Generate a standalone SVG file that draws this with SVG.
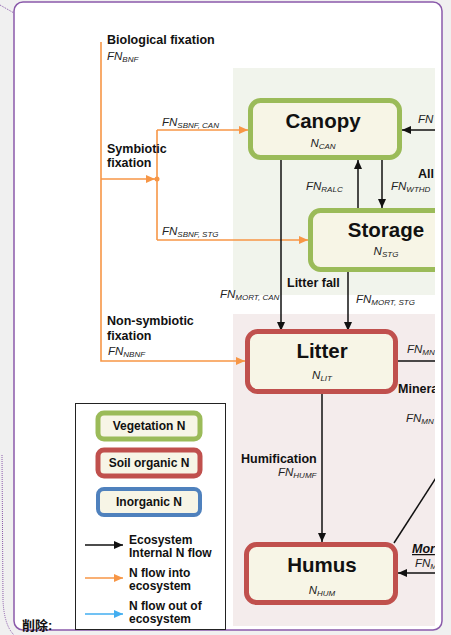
<svg xmlns="http://www.w3.org/2000/svg" width="451" height="635" viewBox="0 0 451 635">
<style>
text{font-family:"Liberation Sans",Arial,sans-serif;fill:#111}
.b{font-weight:bold}
.lbl{font-size:12.5px;font-weight:bold}
.it{font-style:italic;font-size:11.5px;fill:#222}
.sub{font-size:8px}
.title{font-size:20.5px;font-weight:bold;text-anchor:middle}
.leg{font-size:12px;font-weight:bold}
.legbox{font-size:12px;font-weight:bold;text-anchor:middle}
.veg{fill:#f7f5e6;stroke:#9bbb59;stroke-width:5}
.soil{fill:#f7f5e6;stroke:#c0504d;stroke-width:5}
.inorg{fill:#f7f5e6;stroke:#4f81bd;stroke-width:4}
.blk{stroke:#111;stroke-width:1.5;fill:none}
.org{stroke:#f79646;stroke-width:1.6;fill:none}
.blu{stroke:#42aef0;stroke-width:1.6;fill:none}
</style>
<defs>
<marker id="ab" markerUnits="userSpaceOnUse" markerWidth="10" markerHeight="8" refX="9" refY="4" orient="auto"><path d="M0,0 L9,4 L0,8 z" fill="#111"/></marker>
<marker id="ao" markerUnits="userSpaceOnUse" markerWidth="10" markerHeight="8" refX="9" refY="4" orient="auto"><path d="M0,0 L9,4 L0,8 z" fill="#f79646"/></marker>
<marker id="al" markerUnits="userSpaceOnUse" markerWidth="10" markerHeight="8" refX="9" refY="4" orient="auto"><path d="M0,0 L9,4 L0,8 z" fill="#42aef0"/></marker>
<clipPath id="cp"><rect x="0" y="0" width="435" height="635"/></clipPath>
</defs>
<rect x="0" y="0" width="451" height="635" fill="#f0f0f0"/>
<rect id="frame" x="14" y="2" width="428" height="628" rx="9" fill="#ffffff" stroke="#8a5aaa" stroke-width="1.5"/>
<path d="M0,5 L14,13" stroke="#8a5aaa" stroke-width="1" stroke-dasharray="1,1" fill="none"/>
<path d="M2,455 L3,600 Q4,625 14,635" stroke="#8a5aaa" stroke-width="1" stroke-dasharray="1,1" fill="none"/>
<text x="22" y="630" class="b" font-size="13" style="font-family:'Liberation Sans','Noto Sans CJK SC',sans-serif">削除:</text>
<g clip-path="url(#cp)">
<rect id="veg-region" x="233" y="68" width="202" height="227" fill="#f1f4ec"/>
<rect id="soil-region" x="233" y="314" width="202" height="312" fill="#f4ecec"/>
<g id="connectors">
<path class="org" d="M101,42 V361 H245" marker-end="url(#ao)"/>
<path class="org" d="M101,179 H155" marker-end="url(#ao)"/>
<circle cx="157" cy="179" r="2.5" fill="#f79646"/>
<path class="org" d="M157,130 V240"/>
<path class="org" d="M157,130 H248" marker-end="url(#ao)"/>
<path class="org" d="M157,240 H308" marker-end="url(#ao)"/>
<path class="blk" d="M281,160 V331" marker-end="url(#ab)"/>
<path class="blk" d="M348,272 V331" marker-end="url(#ab)"/>
<path class="blk" d="M358,208 V160" marker-end="url(#ab)"/>
<path class="blk" d="M382,160 V208" marker-end="url(#ab)"/>
<path class="blk" d="M445,130 H402" marker-end="url(#ab)"/>
<path class="blk" d="M398,361 H445"/>
<path class="blk" d="M322,394 V542" marker-end="url(#ab)"/>
<path class="blk" d="M394,543 L445,464"/>
<path class="blk" d="M445,573 H398" marker-end="url(#ab)"/>
</g>
<g id="labels">
<text x="107" y="44" class="lbl">Biological fixation</text>
<text x="107" y="60" class="it">FN<tspan class="sub" dy="2">BNF</tspan></text>
<text x="107" y="153" class="lbl">Symbiotic</text>
<text x="107" y="167" class="lbl">fixation</text>
<text x="162" y="126" class="it">FN<tspan class="sub" dy="2">SBNF, CAN</tspan></text>
<text x="162" y="235" class="it">FN<tspan class="sub" dy="2">SBNF, STG</tspan></text>
<text x="306" y="190" class="it">FN<tspan class="sub" dy="2">RALC</tspan></text>
<text x="391" y="190" class="it">FN<tspan class="sub" dy="2">WTHD</tspan></text>
<text x="418" y="178" class="lbl">All</text>
<text x="418" y="123" class="it">FN</text>
<text x="287" y="287" class="lbl">Litter fall</text>
<text x="220" y="298" class="it">FN<tspan class="sub" dy="2">MORT, CAN</tspan></text>
<text x="356" y="303" class="it">FN<tspan class="sub" dy="2">MORT, STG</tspan></text>
<text x="107" y="325" class="lbl">Non-symbiotic</text>
<text x="107" y="340" class="lbl">fixation</text>
<text x="108" y="355" class="it">FN<tspan class="sub" dy="2">NBNF</tspan></text>
<text x="407" y="353" class="it">FN<tspan class="sub" dy="2">MN</tspan></text>
<text x="398" y="393" class="lbl">Minera</text>
<text x="406" y="422" class="it">FN<tspan class="sub" dy="2">MN</tspan></text>
<text x="241" y="463" class="lbl">Humification</text>
<text x="278" y="476" class="it">FN<tspan class="sub" dy="2">HUMF</tspan></text>
<text x="412" y="553" class="lbl" font-style="italic" text-decoration="underline">Mor</text>
<text x="415" y="567" class="it">FN<tspan class="sub" dy="2">M</tspan></text>
</g>
<g id="canopy">
<rect class="veg" x="250.5" y="100.5" width="149" height="57" rx="10"/>
<text x="323" y="128" class="title">Canopy</text>
<text x="323" y="147" class="it" text-anchor="middle">N<tspan class="sub" dy="2">CAN</tspan></text>
</g>
<g id="storage">
<rect class="veg" x="310.5" y="210.5" width="150" height="59" rx="10"/>
<text x="386" y="237" class="title">Storage</text>
<text x="386" y="255" class="it" text-anchor="middle">N<tspan class="sub" dy="2">STG</tspan></text>
</g>
<g id="litter">
<rect class="soil" x="247.5" y="331.5" width="148" height="60" rx="10"/>
<text x="322" y="358" class="title">Litter</text>
<text x="322" y="379" class="it" text-anchor="middle">N<tspan class="sub" dy="2">LIT</tspan></text>
</g>
<g id="humus">
<rect class="soil" x="246.5" y="544.5" width="149" height="58" rx="10"/>
<text x="322" y="572" class="title">Humus</text>
<text x="322" y="594" class="it" text-anchor="middle">N<tspan class="sub" dy="2">HUM</tspan></text>
</g>
</g>
<g id="legend">
<rect x="75.5" y="403.5" width="150" height="226" fill="#ffffff" stroke="#222" stroke-width="1"/>
<rect class="veg" x="98" y="413" width="102" height="26" rx="6" stroke-width="4"/>
<text x="149" y="430" class="legbox">Vegetation N</text>
<rect class="soil" x="98" y="450" width="102" height="26" rx="6" stroke-width="4"/>
<text x="149" y="467" class="legbox">Soil organic N</text>
<rect class="inorg" x="98" y="489" width="102" height="26" rx="6"/>
<text x="149" y="506" class="legbox">Inorganic N</text>
<path class="blk" d="M85,545 H123" marker-end="url(#ab)"/>
<text x="129" y="544" class="leg">Ecosystem</text>
<text x="129" y="557" class="leg">Internal N flow</text>
<path class="org" d="M85,578 H123" marker-end="url(#ao)"/>
<text x="129" y="577" class="leg">N flow into</text>
<text x="129" y="590" class="leg">ecosystem</text>
<path class="blu" d="M85,614 H123" marker-end="url(#al)"/>
<text x="129" y="610" class="leg">N flow out of</text>
<text x="129" y="623" class="leg">ecosystem</text>
</g>
</svg>
